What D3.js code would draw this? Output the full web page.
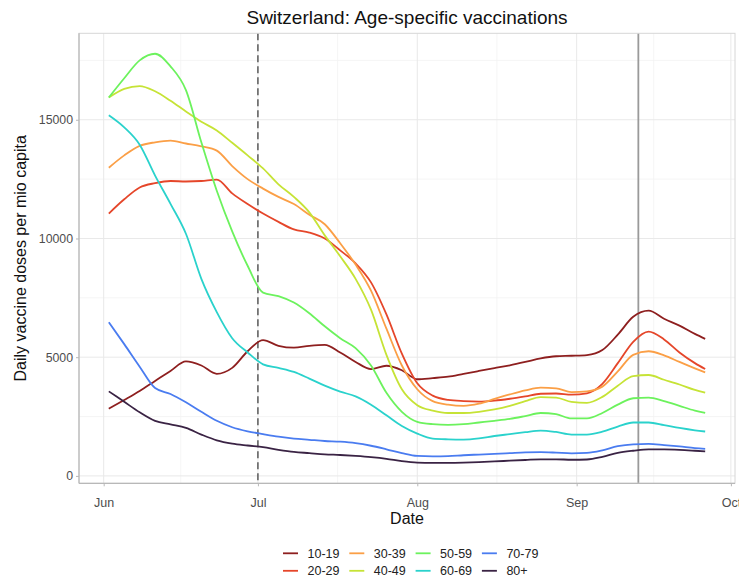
<!DOCTYPE html>
<html><head><meta charset="utf-8">
<script src="https://cdn.jsdelivr.net/npm/d3@7"></script>
<style>
body{margin:0;background:#fff}
svg{display:block}
text{font-family:"Liberation Sans",Arial,Helvetica,sans-serif}
</style>
</head><body>
<svg id="chart" width="739" height="580"></svg>
<script>
// ---------- DATA ----------
const dates = ["2021-06-02","2021-06-05","2021-06-08","2021-06-11","2021-06-14","2021-06-17","2021-06-20","2021-06-23","2021-06-26","2021-06-29",
"2021-07-02","2021-07-05","2021-07-08","2021-07-11","2021-07-14","2021-07-17","2021-07-20","2021-07-23","2021-07-26","2021-07-29",
"2021-08-01","2021-08-04","2021-08-07","2021-08-10","2021-08-13","2021-08-16","2021-08-19","2021-08-22","2021-08-25","2021-08-28",
"2021-08-31","2021-09-03","2021-09-06","2021-09-09","2021-09-12","2021-09-15","2021-09-18","2021-09-21","2021-09-24","2021-09-26"];

const groups = ["10-19","20-29","30-39","40-49","50-59","60-69","70-79","80+"];
const colors = ["#8e1f1f","#e5462a","#fb9f46","#c6e336","#6cf25d","#2ad2cc","#4a7cf0","#3a2344"];

const v10_19 = [2830,3200,3580,4000,4420,4820,4650,4300,4550,5250,5720,5480,5400,5480,5520,5200,4800,4500,4640,4450,4070,4120,4180,4300,4420,4540,4660,4800,4950,5040,5060,5090,5300,5950,6700,6960,6620,6330,5980,5770];
const v20_29 = [11050,11650,12150,12330,12420,12400,12420,12480,11900,11450,11050,10700,10380,10250,10000,9500,8950,8150,6800,5150,3900,3380,3200,3150,3130,3170,3250,3350,3460,3470,3420,3480,3880,4750,5650,6080,5750,5200,4750,4500];
const v30_39 = [12980,13500,13900,14050,14120,14000,13880,13700,13050,12500,12100,11750,11450,11000,10600,9800,8900,7800,6200,4650,3650,3150,3000,2950,3040,3240,3430,3600,3720,3690,3530,3560,3760,4400,5100,5250,5080,4800,4530,4360];
const v40_49 = [15940,16300,16420,16200,15800,15350,14920,14550,14030,13500,12950,12280,11750,11100,10130,9250,8300,7000,5100,3650,2980,2750,2650,2650,2700,2800,2950,3150,3320,3300,3120,3080,3330,3800,4200,4250,4050,3850,3620,3510];
const v50_59 = [15940,16750,17500,17780,17250,16250,14050,12010,10300,8850,7720,7570,7300,6850,6300,5800,5380,4650,3500,2700,2280,2180,2150,2180,2250,2320,2400,2520,2650,2600,2420,2420,2650,3000,3270,3300,3150,2950,2750,2650];
const v60_69 = [15190,14680,13950,12650,11460,10200,8300,6900,5800,5200,4700,4550,4380,4100,3800,3550,3350,3000,2550,2100,1780,1570,1540,1530,1580,1680,1760,1840,1910,1850,1740,1740,1860,2080,2250,2250,2140,2020,1920,1870];
const v70_79 = [6470,5550,4600,3700,3450,3100,2700,2320,2050,1880,1760,1650,1570,1520,1470,1440,1380,1270,1120,960,840,820,830,870,900,930,960,990,1000,980,950,970,1080,1250,1330,1350,1300,1240,1170,1140];
const v80p   = [3560,3120,2680,2320,2170,2020,1740,1500,1360,1280,1210,1100,1010,960,910,880,840,790,720,620,560,550,550,560,580,610,640,670,700,700,680,690,800,970,1060,1120,1120,1100,1060,1030];

const seriesValues = [v10_19,v20_29,v30_39,v40_49,v50_59,v60_69,v70_79,v80p];

const yTicks = [0,5000,10000,15000];
const xTickDates = ["2021-06-01","2021-07-01","2021-08-01","2021-09-01","2021-10-01"];
const xTickLabels = ["Jun","Jul","Aug","Sep","Oct"];
const dashedDate = "2021-07-01";
const solidDate = "2021-09-13";
const titleText = "Switzerland: Age-specific vaccinations";
const xTitle = "Date";
const yTitle = "Daily vaccine doses per mio capita";

// ---------- LAYOUT ----------
const W = 739, H = 580;
const P = {left:79, right:735, top:33.3, bottom:483.3};
const parse = d3.utcParse("%Y-%m-%d");
const xDates = dates.map(parse);

const svg = d3.select("#chart");

// scales with ggplot-like 5% expansion
const xExt = d3.extent(xDates);
const xPad = (xExt[1]-xExt[0])*0.05;
const x = d3.scaleUtc()
  .domain([new Date(+xExt[0]-xPad), new Date(+xExt[1]+xPad)])
  .range([P.left, P.right]);

const allVals = seriesValues.flat();
const yExt = d3.extent(allVals);
const yPad = (yExt[1]-yExt[0])*0.05;
const y = d3.scaleLinear()
  .domain([yExt[0]-yPad, yExt[1]+yPad])
  .range([P.bottom, P.top]);

// panel background
svg.append("rect").attr("x",P.left).attr("y",P.top)
  .attr("width",P.right-P.left).attr("height",P.bottom-P.top)
  .attr("fill","#fff");

// grid
const xMajor = xTickDates.map(parse);
const xMinor = [];
for (let i=0;i<xMajor.length-1;i++) xMinor.push(new Date((+xMajor[i]+ +xMajor[i+1])/2));
const yMinor = [];
for (let i=0;i<yTicks.length;i++) yMinor.push(yTicks[i]+2500);

const g = svg.append("g");
const inX = d => x(d)>=P.left && x(d)<=P.right;
const inY = v => y(v)>=P.top && y(v)<=P.bottom;

g.selectAll(".ymin").data(yMinor.filter(inY)).join("line")
  .attr("x1",P.left).attr("x2",P.right)
  .attr("y1",d=>y(d)).attr("y2",d=>y(d))
  .attr("stroke","#f3f3f3").attr("stroke-width",0.8);
g.selectAll(".xmin").data(xMinor.filter(inX)).join("line")
  .attr("y1",P.top).attr("y2",P.bottom)
  .attr("x1",d=>x(d)).attr("x2",d=>x(d))
  .attr("stroke","#f3f3f3").attr("stroke-width",0.8);
g.selectAll(".ymaj").data(yTicks).join("line")
  .attr("x1",P.left).attr("x2",P.right)
  .attr("y1",d=>y(d)).attr("y2",d=>y(d))
  .attr("stroke","#e9e9e9").attr("stroke-width",1);
g.selectAll(".xmaj").data(xMajor.filter(inX)).join("line")
  .attr("y1",P.top).attr("y2",P.bottom)
  .attr("x1",d=>x(d)).attr("x2",d=>x(d))
  .attr("stroke","#e9e9e9").attr("stroke-width",1);

// reference lines
svg.append("line")
  .attr("x1",x(parse(dashedDate))).attr("x2",x(parse(dashedDate)))
  .attr("y1",P.top).attr("y2",P.bottom)
  .attr("stroke","#5a5a5a").attr("stroke-width",1.5)
  .attr("stroke-dasharray","7,4");
svg.append("line")
  .attr("x1",x(parse(solidDate))).attr("x2",x(parse(solidDate)))
  .attr("y1",P.top).attr("y2",P.bottom)
  .attr("stroke","#9a9a9a").attr("stroke-width",1.8);

// lines
const line = d3.line()
  .x((d,i)=>x(xDates[i]))
  .y(d=>y(d))
  .curve(d3.curveMonotoneX);

svg.append("g").selectAll("path").data(seriesValues).join("path")
  .attr("d",d=>line(d))
  .attr("fill","none")
  .attr("stroke",(d,i)=>colors[i])
  .attr("stroke-width",1.8)
  .attr("stroke-linejoin","round");

// panel border
svg.append("rect").attr("x",P.left).attr("y",P.top)
  .attr("width",P.right-P.left).attr("height",P.bottom-P.top)
  .attr("fill","none").attr("stroke","#d6d6d6").attr("stroke-width",1);
// axis lines (left, bottom)
svg.append("line").attr("x1",P.left).attr("x2",P.left).attr("y1",P.top).attr("y2",P.bottom)
  .attr("stroke","#b8b8b8").attr("stroke-width",1.2);
svg.append("line").attr("x1",P.left).attr("x2",P.right).attr("y1",P.bottom).attr("y2",P.bottom)
  .attr("stroke","#b8b8b8").attr("stroke-width",1.2);

// axes via d3
const xAxis = d3.axisBottom(x)
  .tickValues(xMajor)
  .tickFormat((d,i)=>xTickLabels[i])
  .tickSize(3).tickPadding(12);
const gx = svg.append("g").attr("transform",`translate(0,${P.bottom})`).call(xAxis);
gx.select(".domain").remove();
gx.selectAll(".tick line").attr("stroke","#b8b8b8");
gx.selectAll(".tick text").attr("fill","#4d4d4d").style("font-size","12.5px")
  .style("font-family","'Liberation Sans',Arial,sans-serif");

const yAxis = d3.axisLeft(y)
  .tickValues(yTicks)
  .tickFormat(d3.format("d"))
  .tickSize(3).tickPadding(3);
const gy = svg.append("g").attr("transform",`translate(${P.left},0)`).call(yAxis);
gy.select(".domain").remove();
gy.selectAll(".tick line").attr("stroke","#b8b8b8");
gy.selectAll(".tick text").attr("fill","#4d4d4d").style("font-size","12.3px")
  .style("font-family","'Liberation Sans',Arial,sans-serif");

// titles
svg.append("text").attr("x",(P.left+P.right)/2).attr("y",24)
  .attr("text-anchor","middle").style("font-size","19px").attr("fill","#111")
  .text(titleText);
svg.append("text").attr("x",(P.left+P.right)/2).attr("y",523.5)
  .attr("text-anchor","middle").style("font-size","16px").attr("fill","#111")
  .text(xTitle);
svg.append("text")
  .attr("transform",`translate(26,${(P.top+P.bottom)/2}) rotate(-90)`)
  .attr("text-anchor","middle").style("font-size","16px").attr("fill","#111")
  .text(yTitle);

// legend (2 rows, column-major)
const legX0 = 283, colW = 66.3, rowY0 = 553.3, rowH = 17.5;
const leg = svg.append("g");
groups.forEach((gname,i)=>{
  const col = Math.floor(i/2), row = i%2;
  const lx = legX0 + col*colW, ly = rowY0 + row*rowH;
  leg.append("line").attr("x1",lx).attr("x2",lx+15).attr("y1",ly).attr("y2",ly)
    .attr("stroke",colors[i]).attr("stroke-width",1.8);
  leg.append("text").attr("x",lx+24.5).attr("y",ly+4.4)
    .style("font-size","12.5px").attr("fill","#222").text(gname);
});
</script>
</body></html>
